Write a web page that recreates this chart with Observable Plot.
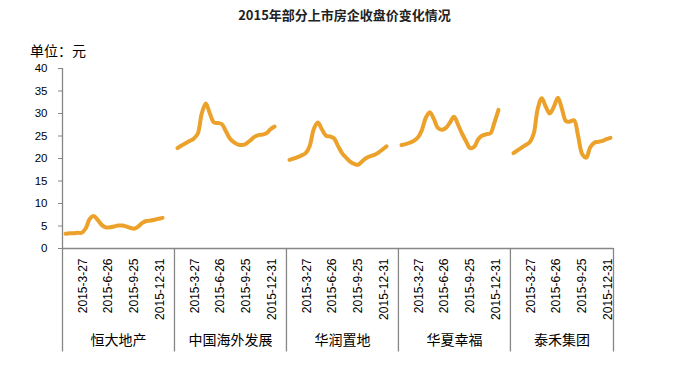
<!DOCTYPE html>
<html><head><meta charset="utf-8">
<script src="https://cdn.jsdelivr.net/npm/d3@7"></script>
<script src="https://cdn.jsdelivr.net/npm/@observablehq/plot@0.6"></script>
<style>
body{margin:0;background:#fff;}
#wrap{position:relative;width:679px;height:376px;font-family:"Noto Sans CJK SC","Liberation Sans",sans-serif;}
#chart{position:absolute;left:0;top:0;}
#title{position:absolute;left:5px;width:679px;top:5px;text-align:center;font-size:13px;font-weight:bold;color:#222;}
#unit{position:absolute;left:30px;top:40px;font-size:14px;color:#000;}
</style></head><body>
<div id="wrap"><div id="chart"></div><div id="title">2015年部分上市房企收盘价变化情况</div><div id="unit">单位：元</div></div>
<script>
// Companies (category groups)
const companies = ["恒大地产", "中国海外发展", "华润置地", "华夏幸福", "泰禾集团"];
// Closing prices (yuan), roughly every two weeks across 2015
const hengda = [3.3,3.4,3.4,3.5,3.5,4.5,6.6,7.2,6.3,5.2,4.7,4.7,4.9,5.1,5.1,4.9,4.6,4.4,4.9,5.7,6.1,6.2,6.4,6.6,6.8];
const zhonghai = [22.3,22.9,23.4,23.9,24.4,25.5,30.0,32.2,30.0,28.0,27.9,27.6,26.0,24.4,23.6,23.1,23.0,23.3,24.0,24.8,25.2,25.3,25.6,26.5,27.1];
const huarun = [19.7,20.0,20.3,20.7,21.2,22.8,26.5,28.0,26.5,25.1,24.9,24.5,22.8,21.2,20.2,19.3,18.8,18.6,19.4,20.1,20.5,20.8,21.3,22.0,22.7];
const huaxia = [23.0,23.2,23.5,23.9,24.6,26.2,29.0,30.3,28.8,26.8,26.4,26.8,28.0,29.3,27.5,25.5,23.8,22.3,22.6,24.3,25.1,25.4,25.6,28.0,30.8];
const taihe = [21.2,21.8,22.4,23.0,23.6,25.5,31.0,33.4,31.5,30.0,31.5,33.5,31.0,28.3,28.2,28.5,25.0,21.0,20.2,22.5,23.5,23.7,23.9,24.3,24.6];
// Date tick labels and the sample index each one falls on
const dateLabels = ["2015-3-27", "2015-6-26", "2015-9-25", "2015-12-31"];
const dateSlots = [4.3, 10.6, 17.0, 23.4];
const yTicks = [0, 5, 10, 15, 20, 25, 30, 35, 40];

const series = [hengda, zhonghai, huarun, huaxia, taihe];
const GROUP = 27.7, PAD = 0.75, LAST = 25.5;
const xMax = 4 * GROUP + LAST;
const bounds = [0, GROUP, 2 * GROUP, 3 * GROUP, 4 * GROUP, xMax];
const rows = companies.flatMap((c, i) => series[i].map((v, k) => ({company: c, x: i * GROUP + PAD + k, y: v})));
const dateRows = companies.flatMap((c, i) => dateLabels.map((t, j) => ({x: i * GROUP + PAD + dateSlots[j], text: t})));
const nameRows = companies.map((c, i) => ({x: (bounds[i] + bounds[i + 1]) / 2, text: c}));
const gray = "#868686";

const chart = Plot.plot({
  width: 679, height: 376,
  marginTop: 68, marginBottom: 128, marginLeft: 62, marginRight: 66,
  x: {domain: [0, xMax], axis: null},
  y: {domain: [0, 40], axis: null},
  style: {fontFamily: '"Liberation Sans","Noto Sans CJK SC",sans-serif', background: "transparent", color: "#000"},
  marks: [
    Plot.ruleY([0], {stroke: gray, strokeWidth: 1.3}),
    Plot.ruleX([0], {y1: 40, y2: -23, stroke: gray, strokeWidth: 1.3}),
    Plot.ruleX(bounds.slice(1), {y1: 0, y2: -23, stroke: gray, strokeWidth: 1.3}),
    Plot.axisY({ticks: yTicks, tickSize: 4, tickPadding: 11, stroke: gray, fill: "#000", fontSize: 11.5, label: null}),
    Plot.text(dateRows, {x: "x", y: 0, text: "text", rotate: -90, textAnchor: "end", dy: 10, fontSize: 12, fill: "#000"}),
    Plot.text(nameRows, {x: "x", y: 0, text: "text", dy: 92, fontSize: 14, fill: "#000", fontFamily: '"Noto Sans CJK SC",sans-serif'}),
    Plot.line(rows, {x: "x", y: "y", z: "company", stroke: "#EBA12A", strokeWidth: 4, curve: "catmull-rom", strokeLinecap: "round"})
  ]
});
document.getElementById("chart").appendChild(chart);
</script>
</body></html>
